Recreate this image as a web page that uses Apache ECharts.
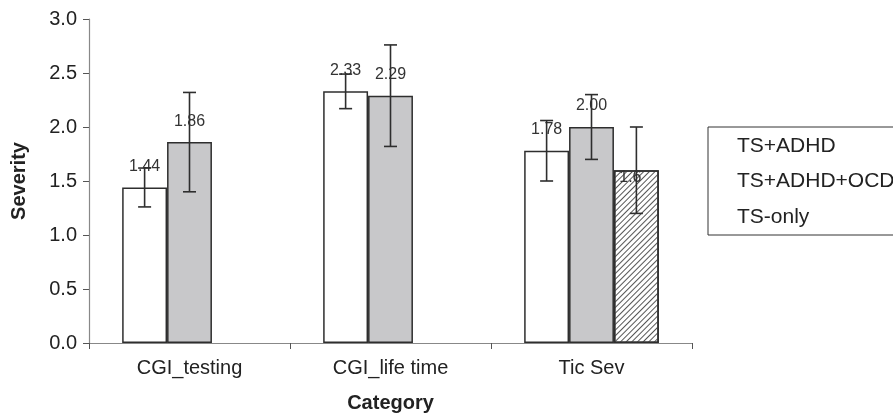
<!DOCTYPE html>
<html>
<head>
<meta charset="utf-8">
<script src="https://cdn.jsdelivr.net/npm/echarts@6/dist/echarts.min.js"></script>
<style>
html,body{margin:0;padding:0;background:#fff;}
#chart{width:893px;height:414px;}
</style>
</head>
<body>
<div id="chart"></div>
<script>
var categories = ['CGI_testing', 'CGI_life time', 'Tic Sev'];
var seriesNames = ['TS+ADHD', 'TS+ADHD+OCD', 'TS-only'];
var tsAdhd = [1.44, 2.33, 1.78];
var tsAdhdOcd = [1.86, 2.29, 2.00];
var tsOnly = [null, null, 1.6];
var tsAdhdErr = [0.18, 0.16, 0.28];
var tsAdhdOcdErr = [0.46, 0.47, 0.30];
var tsOnlyErr = [null, null, 0.40];
var tsAdhdLabels = ['1.44', '2.33', '1.78'];
var tsAdhdOcdLabels = ['1.86', '2.29', '2.00'];
var tsOnlyLabels = ['', '', '1.6'];
var yTicks = [0, 0.5, 1.0, 1.5, 2.0, 2.5, 3.0];

var values = [tsAdhd, tsAdhdOcd, tsOnly];
var errs = [tsAdhdErr, tsAdhdOcdErr, tsOnlyErr];
var labels = [tsAdhdLabels, tsAdhdOcdLabels, tsOnlyLabels];
var CAT_GAP = 0.33;
var FONT = 'Liberation Sans, Arial, sans-serif';

var errData = [];
for (var s = 0; s < 3; s++) {
  for (var c = 0; c < categories.length; c++) {
    if (values[s][c] != null && errs[s][c] != null) {
      errData.push([c, values[s][c] - errs[s][c], values[s][c] + errs[s][c], s]);
    }
  }
}

var fills = ['#ffffff', '#c8c8ca', '#ffffff'];

function makeBar(s) {
  var data = values[s].map(function (v, i) {
    if (v == null) return '-';
    var item = { value: v };
    if (s === 2) {
      item.label = { position: 'insideTop', distance: 0, offset: [-6, -1] };
    }
    return item;
  });
  var style = { color: fills[s], borderColor: '#2e2e2e', borderWidth: 1.5 };
  if (s === 2) {
    style.decal = {
      symbol: 'rect', symbolSize: 1, color: '#555555',
      dashArrayX: [1, 0], dashArrayY: [1, 3], rotation: -Math.PI / 4
    };
  }
  return {
    name: seriesNames[s],
    type: 'bar',
    data: data,
    barGap: '0%',
    barCategoryGap: (CAT_GAP * 100) + '%',
    itemStyle: style,
    label: {
      show: true, position: 'top', distance: 13,
      fontFamily: FONT, fontSize: 16, color: '#333',
      formatter: function (p) { return labels[s][p.dataIndex]; }
    },
    emphasis: { disabled: true },
    z: 2
  };
}

var chart = echarts.init(document.getElementById('chart'), null, { renderer: 'canvas' });
var option = {
  animation: false,
  aria: { enabled: false },
  backgroundColor: '#fff',
  textStyle: { fontFamily: FONT },
  grid: { left: 89, right: 201, top: 19, bottom: 71, containLabel: false, outerBoundsMode: 'none' },
  legend: {
    data: seriesNames,
    orient: 'vertical',
    left: 708, top: 127,
    icon: 'none',
    itemWidth: 14, itemHeight: 14,
    itemGap: 11.5,
    padding: [7, 80, 6, 10],
    borderColor: '#333', borderWidth: 1,
    selectedMode: false,
    textStyle: { fontSize: 21, color: '#222', lineHeight: 24, fontFamily: FONT }
  },
  xAxis: {
    type: 'category',
    data: categories,
    name: 'Category',
    nameLocation: 'middle',
    nameGap: 50,
    nameTextStyle: { fontSize: 20, fontWeight: 'bold', color: '#222', fontFamily: FONT },
    axisLine: { lineStyle: { color: '#888', width: 1.2 } },
    axisTick: { show: true, length: 6, lineStyle: { color: '#555' }, alignWithLabel: false },
    axisLabel: { fontSize: 20, color: '#222', margin: 15, fontFamily: FONT },
    splitLine: { show: false }
  },
  yAxis: {
    type: 'value',
    min: 0, max: 3, interval: 0.5,
    name: 'Severity',
    nameLocation: 'middle',
    nameGap: 60,
    nameRotate: 90,
    nameTextStyle: { fontSize: 20, fontWeight: 'bold', color: '#222', fontFamily: FONT },
    axisLine: { show: true, lineStyle: { color: '#888', width: 1.2 } },
    axisTick: { show: true, length: 6, inside: false, lineStyle: { color: '#555' } },
    axisLabel: {
      fontSize: 20, color: '#222', margin: 12, fontFamily: FONT,
      formatter: function (v) { return yTicks.indexOf(v) >= 0 ? v.toFixed(1) : ''; }
    },
    splitLine: { show: false }
  },
  series: [
    makeBar(0), makeBar(1), makeBar(2),
    {
      type: 'custom',
      name: 'err',
      data: errData,
      encode: { x: 0, y: [1, 2] },
      z: 5,
      silent: true,
      renderItem: function (params, api) {
        var c = api.value(0), lo = api.value(1), hi = api.value(2), s = api.value(3);
        var band = api.size([1, 0])[0];
        var barW = band * (1 - CAT_GAP) / 3;
        var pLo = api.coord([c, lo]);
        var pHi = api.coord([c, hi]);
        var x = pLo[0] + (s - 1) * barW;
        var cap = 6.5;
        var st = { stroke: '#2e2e2e', lineWidth: 1.6 };
        return {
          type: 'group',
          children: [
            { type: 'line', shape: { x1: x, y1: pLo[1], x2: x, y2: pHi[1] }, style: st },
            { type: 'line', shape: { x1: x - cap, y1: pLo[1], x2: x + cap, y2: pLo[1] }, style: st },
            { type: 'line', shape: { x1: x - cap, y1: pHi[1], x2: x + cap, y2: pHi[1] }, style: st }
          ]
        };
      }
    }
  ]
};
chart.setOption(option);
</script>
</body>
</html>
